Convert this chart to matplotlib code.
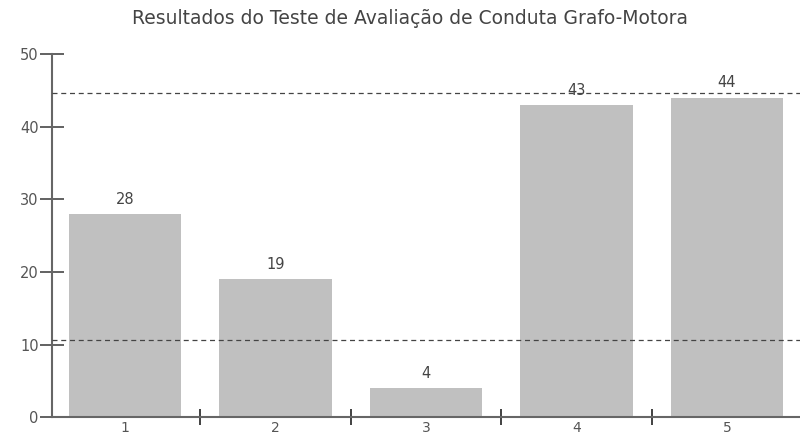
import matplotlib
matplotlib.use("Agg")
import matplotlib.pyplot as plt

plt.rcParams['font.family'] = ['DejaVu Sans']

categorias = ['1', '2', '3', '4', '5']
valores = [28, 19, 4, 43, 44]
linhas_ref = [44.6, 10.6]   # linhas tracejadas (media +/- desvio)
titulo = 'Resultados do Teste de Avaliação de Conduta Grafo-Motora'

fig = plt.figure(figsize=(8, 4.4), dpi=100)
ax = fig.add_axes([0.065, 0.052, 0.935, 0.825])

x = list(range(1, len(valores) + 1))
ax.bar(x, valores, width=0.75, color='#c0c0c0', zorder=2)

for xi, v in zip(x, valores):
    ax.text(xi, v + 1.0, str(v), ha='center', va='bottom', fontsize=10.5, color='#444444', zorder=4)

for y in linhas_ref:
    ax.axhline(y, color='#444444', lw=0.9, ls=(0, (4, 3)), zorder=3)

ax.set_xlim(0.515, 5.485)
ax.set_ylim(0, 50)

ax.set_yticks([0, 10, 20, 30, 40, 50])
ax.set_xticks(x)
ax.set_xticklabels(categorias)
ax.set_xticks([1.5, 2.5, 3.5, 4.5], minor=True)

ax.tick_params(axis='y', direction='inout', length=17, width=1.3, color='#555555',
               labelsize=10.5, labelcolor='#555555', pad=1)
ax.tick_params(axis='x', which='major', length=0, labelsize=10, labelcolor='#555555', pad=3)
ax.tick_params(axis='x', which='minor', direction='inout', length=12, width=1.3, color='#333333')

for s in ['top', 'right']:
    ax.spines[s].set_visible(False)
for s in ['left', 'bottom']:
    ax.spines[s].set_color('#666666')
    ax.spines[s].set_linewidth(1.5)

fig.text(0.512, 0.957, titulo, ha='center', va='center', fontsize=13.5, color='#444444')

fig.savefig('out.png', dpi=100)
